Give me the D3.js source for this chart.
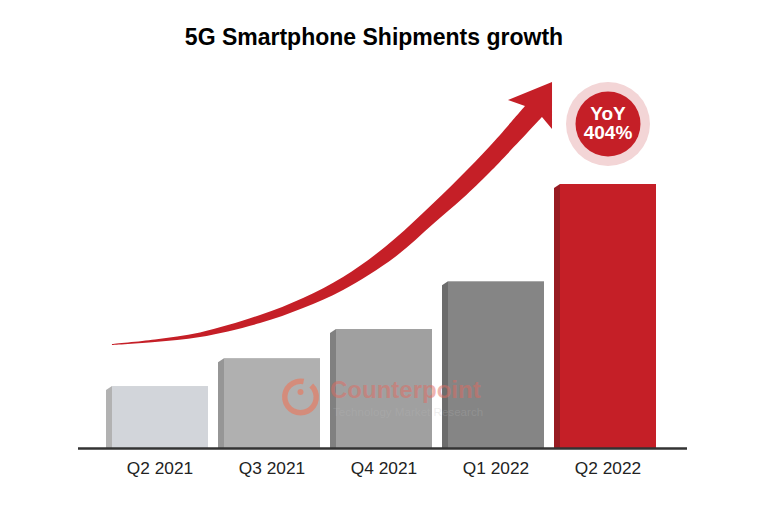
<!DOCTYPE html>
<html>
<head>
<meta charset="utf-8">
<script src="https://cdn.jsdelivr.net/npm/d3@7"></script>
<style>
  html, body { margin: 0; padding: 0; background: #fff; }
  text { font-family: "Liberation Sans", Arial, sans-serif; }
</style>
</head>
<body>
<script>
// Data. No value axis in the source, so index with Q2 2021 = 100
const quarters = ['Q2 2021', 'Q3 2021', 'Q4 2021', 'Q1 2022', 'Q2 2022']
const shipments = [100, 145, 192, 269, 426]
const frontColors = ['#d2d5da', '#b0b0b0', '#a0a0a0', '#858585', '#c51f27']
const sideColors = ['#b2b2b2', '#969696', '#808080', '#6c6c6c', '#981b22']

// Trend arrow outline as [quarter position, index]
const arrowUpper = [[-0.430, 167.8], [-0.045, 175.1], [0.358, 186.4], [0.895, 214.6], [1.280, 242.1], [1.638, 275.9],
  [2.013, 324.3], [2.353, 379.2], [2.685, 437.3], [2.953, 487.3], [3.266, 551.9]]
const arrowHead = [[3.114, 561.6], [3.508, 590.6], [3.508, 514.8]]
const arrowLower = [[3.418, 534.1], [2.953, 445.4], [2.711, 403.4], [2.443, 361.5], [2.103, 308.2],
  [1.638, 255.0], [1.280, 225.9], [0.895, 201.7], [0.358, 179.1], [-0.045, 171.0], [-0.430, 166.2]]

const chartTitle = '5G Smartphone Shipments growth'
const badgeLines = ['YoY', '404%']

const w = 770
const h = 515
const baseY = 448
const sideW = 6

const svg = d3.select('body')
  .append('svg')
  .attr('width', w)
  .attr('height', h)
  .style('display', 'block')

svg.append('text')
  .attr('x', 374)
  .attr('y', 45)
  .attr('text-anchor', 'middle')
  .attr('font-size', 23)
  .attr('font-weight', 'bold')
  .attr('fill', '#000')
  .text(chartTitle)

// Scales
const xScale = d3.scaleBand()
  .domain(quarters)
  .range([106, 656])
  .paddingInner(10 / 112)

const yScale = d3.scaleLinear()
  .domain([0, 426])
  .range([baseY, 184])

// position along the quarters, for the arrow
const posScale = d3.scaleLinear()
  .domain([0, 4])
  .range([160, 607])

// Bars
const bars = svg.selectAll('g.bar')
  .data(quarters)
  .enter()
  .append('g')
  .attr('class', 'bar')

bars.append('path')
  .attr('fill', (d, i) => sideColors[i])
  .attr('d', (d, i) => {
    const x0 = xScale(d)
    const top = yScale(shipments[i])
    const p = d3.path()
    p.moveTo(x0, baseY)
    p.lineTo(x0, top + 4)
    p.lineTo(x0 + sideW, top)
    p.lineTo(x0 + sideW, baseY)
    p.closePath()
    return p.toString()
  })

bars.append('rect')
  .attr('x', d => xScale(d) + sideW)
  .attr('y', (d, i) => yScale(shipments[i]))
  .attr('width', xScale.bandwidth() - sideW)
  .attr('height', (d, i) => baseY - yScale(shipments[i]))
  .attr('fill', (d, i) => frontColors[i])

// Axis
const xAxis = d3.axisBottom(xScale).tickSize(0).tickPadding(14)

const axisG = svg.append('g')
  .attr('transform', `translate(0, ${baseY})`)
  .call(xAxis)

axisG.select('.domain').remove()
axisG.selectAll('text')
  .attr('x', sideW / 2)
  .attr('font-size', 17.3)
  .attr('fill', '#222')

svg.append('line')
  .attr('x1', 78)
  .attr('x2', 687)
  .attr('y1', baseY + 0.5)
  .attr('y2', baseY + 0.5)
  .attr('stroke', '#333')
  .attr('stroke-width', 2.5)

// Arrow
const edge = d3.line()
  .x(d => posScale(d[0]))
  .y(d => yScale(d[1]))
  .curve(d3.curveCatmullRom)

const head = d3.line()
  .x(d => posScale(d[0]))
  .y(d => yScale(d[1]))

svg.append('path')
  .attr('fill', '#c51f27')
  .attr('d', edge(arrowUpper) + head(arrowHead).replace('M', 'L') + edge(arrowLower).replace('M', 'L') + 'Z')

// Badge
const badge = svg.append('g').attr('transform', 'translate(608, 124)')
badge.append('circle').attr('r', 42).attr('fill', '#f3d5d6')
badge.append('circle').attr('r', 32.5).attr('fill', '#c51f27')
badge.selectAll('text')
  .data(badgeLines)
  .enter()
  .append('text')
  .attr('text-anchor', 'middle')
  .attr('y', (d, i) => -4.5 + i * 19)
  .attr('font-size', 19)
  .attr('font-weight', 'bold')
  .attr('fill', '#fff')
  .text(d => d)

// Watermark
const mark = svg.append('g').attr('transform', 'translate(300.5, 397)')
mark.append('path')
  .attr('fill', '#e0806a')
  .attr('fill-opacity', 0.75)
  .attr('d', d3.arc()({ innerRadius: 13, outerRadius: 18.5, startAngle: 0.75, endAngle: Math.PI * 2 + 0.2 }))
mark.append('circle')
  .attr('cx', 0)
  .attr('cy', -5)
  .attr('r', 3)
  .attr('fill', '#e0806a')
  .attr('fill-opacity', 0.75)

svg.append('text')
  .attr('x', 330)
  .attr('y', 398)
  .attr('font-size', 24)
  .attr('font-weight', 'bold')
  .attr('fill', '#e06a60')
  .attr('fill-opacity', 0.5)
  .text('Counterpoint')

svg.append('text')
  .attr('x', 333)
  .attr('y', 416)
  .attr('font-size', 11.6)
  .attr('fill', '#bbb')
  .attr('fill-opacity', 0.25)
  .text('Technology Market Research')
</script>
</body>
</html>
